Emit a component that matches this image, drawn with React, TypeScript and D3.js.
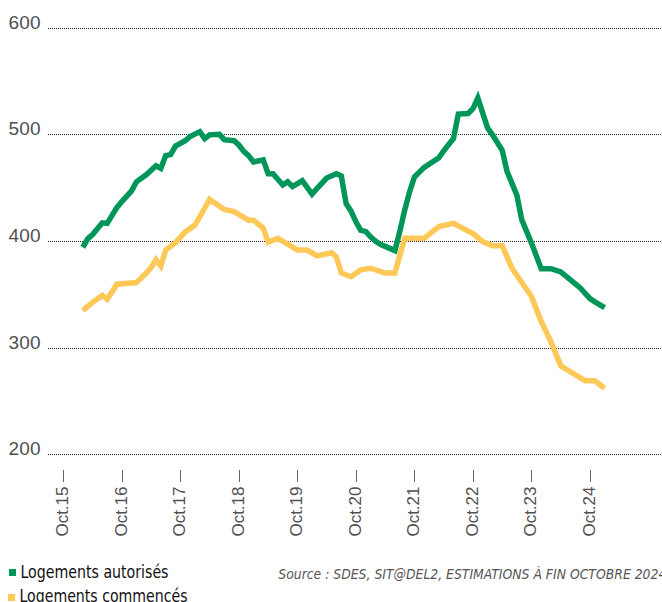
import React from "react";
import * as d3 from "d3";

// month index: 0 = Oct 2015
const tickMonths = [0, 12, 24, 36, 48, 60, 72, 84, 96, 108];
const tickLabels = ["Oct.15", "Oct.16", "Oct.17", "Oct.18", "Oct.19", "Oct.20", "Oct.21", "Oct.22", "Oct.23", "Oct.24"];
const yTicks = [200, 300, 400, 500, 600];

const autorises: [number, number][] = [
  [4, 394], [5, 402], [6, 406], [8, 417], [9, 416.5], [11, 431.5], [12, 437], [14, 447], [15, 455.5],
  [17, 462], [19, 470.5], [20, 468], [21, 480], [22, 481], [23, 489], [25, 494], [26, 498], [28, 502.5],
  [29, 496], [30, 499.5], [32, 500], [33, 495], [35, 494], [36, 490], [37, 484], [38, 480], [39, 474],
  [41, 476], [42, 463], [43, 463], [45, 452.5], [46, 455.5], [47, 451], [49, 456.5], [51, 444], [52, 449],
  [54, 459], [56, 463], [57, 461], [58, 435], [59, 428], [60, 418], [61, 410], [62, 409], [63, 404],
  [64, 400], [65, 397], [68, 391], [69, 409], [70, 429], [71, 446], [72, 460], [74, 469], [77, 478],
  [78, 484.5], [80, 496], [81, 519], [83, 519.5], [84, 524], [85, 534], [87, 506], [88, 499.5], [90, 485],
  [91, 465], [93, 443], [94, 420], [96, 398], [98, 374], [100, 374], [102, 371], [104, 363.5], [106, 356],
  [108, 346], [109, 343], [111, 337.5],
];

const commences: [number, number][] = [
  [4, 335], [6, 342.5], [8, 349], [9, 345.5], [11, 359.5], [15, 361], [17, 370], [18, 375], [19, 382.5],
  [20, 376.5], [21, 391.5], [23, 398.5], [25, 408.5], [27, 415], [30, 439], [33, 429.5], [35, 427.5],
  [38, 419.5], [39, 419.5], [41, 412], [42, 399], [44, 402.5], [46, 397], [48, 391.5], [50, 391.5],
  [52, 386], [55, 389], [56, 385], [57, 370], [59, 366.5], [61, 373], [63, 374.5], [66, 370], [68, 370],
  [70, 402.5], [74, 402.5], [77, 413.5], [80, 416.5], [84, 407], [86, 399.5], [88, 395.5], [90, 395.5],
  [92, 374.5], [96, 348], [98, 324.5], [100, 305.5], [102, 283], [107, 269], [109, 269], [111, 262],
];

const seriesNames = ["Logements autorisés", "Logements commencés"];
const sourceText = "Source : SDES, SIT@DEL2, ESTIMATIONS À FIN OCTOBRE 2024";

const GREEN = "#00965a";
const YELLOW = "#fec859";

export default function App() {
  const W = 662, H = 602;
  const x = d3.scaleLinear().domain([0, 108]).range([63.3, 590]);
  const y = d3.scaleLinear().domain([200, 600]).range([454.4, 27.6]);
  const line = d3.line<[number, number]>().x(d => x(d[0])).y(d => y(d[1]));

  return (
    <svg width={W} height={H} style={{ position: "absolute", left: 0, top: 0, background: "#fff" }}
      fontFamily="'Liberation Sans', Arial, sans-serif">
      {yTicks.map(t => (
        <g key={t}>
          <line x1={48} x2={W} y1={Math.round(y(t)) + 0.5} y2={Math.round(y(t)) + 0.5}
            stroke="#222" strokeWidth={1} strokeDasharray="1 1" />
          <text x={41} y={y(t) + 1} textAnchor="end" fontSize={19} fill="#505050" letterSpacing={0.3}>{t}</text>
        </g>
      ))}
      {tickMonths.map((m, i) => (
        <g key={m}>
          <line x1={Math.round(x(m)) + 0.5} x2={Math.round(x(m)) + 0.5} y1={470} y2={482} stroke="#666" strokeWidth={1} />
          <text transform={`translate(${x(m) + 5},${486.5}) rotate(-90)`} textAnchor="end" fontSize={17} fill="#505050">
            {tickLabels[i]}
          </text>
        </g>
      ))}
      <path d={line(commences) || ""} fill="none" stroke={YELLOW} strokeWidth={5.5} strokeLinejoin="miter" />
      <path d={line(autorises) || ""} fill="none" stroke={GREEN} strokeWidth={5.5} strokeLinejoin="miter" />

      <rect x={9} y={569} width={7} height={7} fill={GREEN} />
      <text x={20.5} y={577.7} fontSize={18} fill="#111" textLength={148} lengthAdjust="spacingAndGlyphs"
        fontFamily="'Liberation Sans Narrow', 'DejaVu Sans Condensed', sans-serif">{seriesNames[0]}</text>
      <rect x={8} y={594} width={7} height={7} fill={YELLOW} />
      <text x={19.5} y={601.5} fontSize={18} fill="#111" textLength={168} lengthAdjust="spacingAndGlyphs"
        fontFamily="'Liberation Sans Narrow', 'DejaVu Sans Condensed', sans-serif">{seriesNames[1]}</text>

      <text x={278.3} y={579.3} fontSize={14} fill="#555" fontStyle="italic" textLength={388} lengthAdjust="spacingAndGlyphs"
        fontFamily="'Liberation Sans Narrow', 'DejaVu Sans Condensed', sans-serif">{sourceText}</text>
    </svg>
  );
}
